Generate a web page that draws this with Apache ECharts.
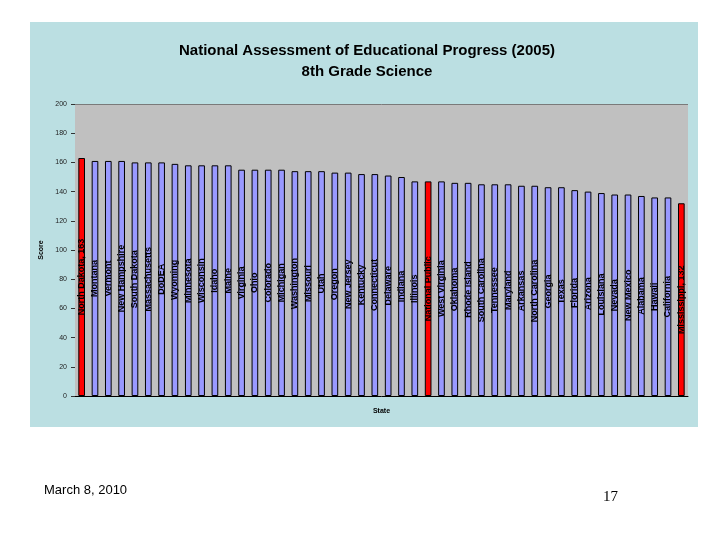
<!DOCTYPE html>
<html>
<head>
<meta charset="utf-8">
<script src="https://cdn.jsdelivr.net/npm/echarts@6/dist/echarts.min.js"></script>
<style>
html,body{margin:0;padding:0;background:#ffffff;}
#chart{width:720px;height:540px;}
</style>
</head>
<body>
<div id="chart"></div>
<script>
var titleText = 'National Assessment of Educational Progress (2005)\n8th Grade Science';
var yAxisName = 'Score';
var xAxisName = 'State';
var footerDate = 'March 8, 2010';
var footerPage = '17';

var states = ['North Dakota, 163','Montana','Vermont','New Hampshire','South Dakota','Massachusetts','DoDEA','Wyoming','Minnesota','Wisconsin','Idaho','Maine','Virginia','Ohio','Colorado','Michigan','Washington','Missouri','Utah','Oregon','New Jersey','Kentucky','Connecticut','Delaware','Indiana','Illinois','National Public','West Virginia','Oklahoma','Rhode Island','South Carolina','Tennessee','Maryland','Arkansas','North Carolina','Georgia','Texas','Florida','Arizona','Louisiana','Nevada','New Mexico','Alabama','Hawaii','California','Mississippi, 132'];
var scores = [163,161,161,161,160,160,160,159,158,158,158,158,155,155,155,155,154,154,154,153,153,152,152,151,150,147,147,147,146,146,145,145,145,144,144,143,143,141,140,139,138,138,137,136,136,132];
var highlighted = ['North Dakota, 163','National Public','Mississippi, 132'];
var yMin = 0, yMax = 200, yStep = 20;

var chart = echarts.init(document.getElementById('chart'), null, {renderer:'canvas'});

var barData = scores.map(function(v, i){
  var hi = highlighted.indexOf(states[i]) >= 0;
  return {value: v, itemStyle: {color: hi ? '#ff0000' : '#9999ff'}};
});

chart.setOption({
  animation: false,
  backgroundColor: '#ffffff',
  graphic: [
    {type:'rect', left:30, top:22, shape:{width:668, height:405}, style:{fill:'#bbdfe2'}, z:-10},
    {type:'text', left:44, top:484, style:{text:footerDate, font:'13px "Liberation Sans", Arial, sans-serif', fill:'#000'}},
    {type:'text', left:603, top:490, style:{text:footerPage, font:'15px "Liberation Serif", "Times New Roman", serif', fill:'#000'}}
  ],
  title: {
    text: titleText,
    left: 362, top: 35, textAlign: 'center',
    textStyle: {fontFamily:'"Liberation Sans", Arial, sans-serif', fontSize:15, fontWeight:'bold', color:'#000', lineHeight:21}
  },
  grid: {left:75, right:32, top:104, bottom:144, show:true, backgroundColor:'#c0c0c0', borderWidth:0},
  xAxis: {
    type:'category', data: states,
    name: xAxisName, nameLocation:'middle', nameGap:12,
    nameTextStyle:{fontFamily:'"Liberation Sans", Arial, sans-serif', fontSize:7, fontWeight:'bold', color:'#000'},
    axisLine:{show:true, lineStyle:{color:'#000', width:1}},
    axisTick:{show:false}, axisLabel:{show:false}
  },
  yAxis: {
    type:'value', min:yMin, max:yMax, interval:yStep,
    name: yAxisName, nameLocation:'middle', nameGap:14, nameRotate:90,
    nameTextStyle:{fontFamily:'"Liberation Sans", Arial, sans-serif', fontSize:7, fontWeight:'bold', color:'#000'},
    axisLine:{show:false},
    axisTick:{show:true, length:4, lineStyle:{color:'#333'}},
    axisLabel:{fontFamily:'"Liberation Sans", Arial, sans-serif', fontSize:7, color:'#222', margin:8},
    splitLine:{show:false}
  },
  series: [{
    type:'bar', data: barData, barWidth:'50%',
    itemStyle:{borderColor:'#000', borderWidth:1},
    label:{
      show:true, position:'inside', rotate:90,
      formatter: function(p){ return p.name; },
      fontFamily:'"Liberation Sans", Arial, sans-serif', fontSize:9, fontWeight:'bold', color:'#000'
    },
    markLine:{
      silent:true, symbol:'none', label:{show:false},
      lineStyle:{color:'#7a7a7a', width:1, type:'solid'},
      data:[{yAxis:yMax}]
    }
  }]
});
</script>
</body>
</html>
